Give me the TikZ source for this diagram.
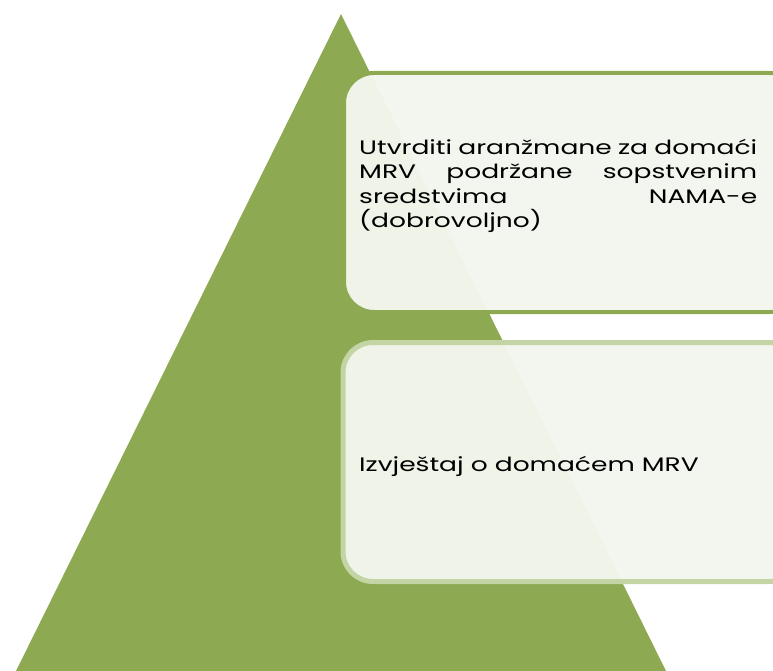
\documentclass[tikz,border=0pt]{standalone}
\usepackage{fontspec}
\setmainfont[FakeStretch=1.36]{Poppins}
\usepackage{tikz}
\usepackage{xcolor}
\definecolor{pyrgreen}{RGB}{141,169,81}
\definecolor{pyrlight}{RGB}{195,213,165}
\definecolor{boxfill}{RGB}{243,246,237}
\hyphenpenalty=10000

\begin{document}
\begin{tikzpicture}[x=1pt, y=-1pt,
    box/.style = {draw, rectangle, rounded corners=30pt, fill=boxfill, fill opacity=0.97,
                  minimum width=456pt, minimum height=239pt, inner sep=0pt},
    boxtext/.style = {font=\fontsize{19.5}{24.4}\selectfont, align=justify, text width=398pt, inner sep=0pt}]
    \useasboundingbox (0,0) rectangle (773,671);
    \clip (0,0) rectangle (773,671);

    % pyramid
    \fill[pyrgreen] (341,14) -- (666,671) -- (16,671) -- cycle;

    \node[box, draw=pyrgreen, line width=4pt] (upper) at (572,192.5) {};
    \node[box, draw=pyrlight, line width=5pt] (lower) at (571,462) {};

    \node[boxtext, anchor=base west] (uppertext) at (359,154.3)
        {Utvrditi aranžmane za domaći\linebreak MRV podržane sopstvenim\linebreak sredstvima NAMA-e\linebreak (dobrovoljno)};
    \node[boxtext, anchor=base west] (lowertext) at (359,471)
        {Izvještaj o domaćem MRV};
\end{tikzpicture}
\end{document}
